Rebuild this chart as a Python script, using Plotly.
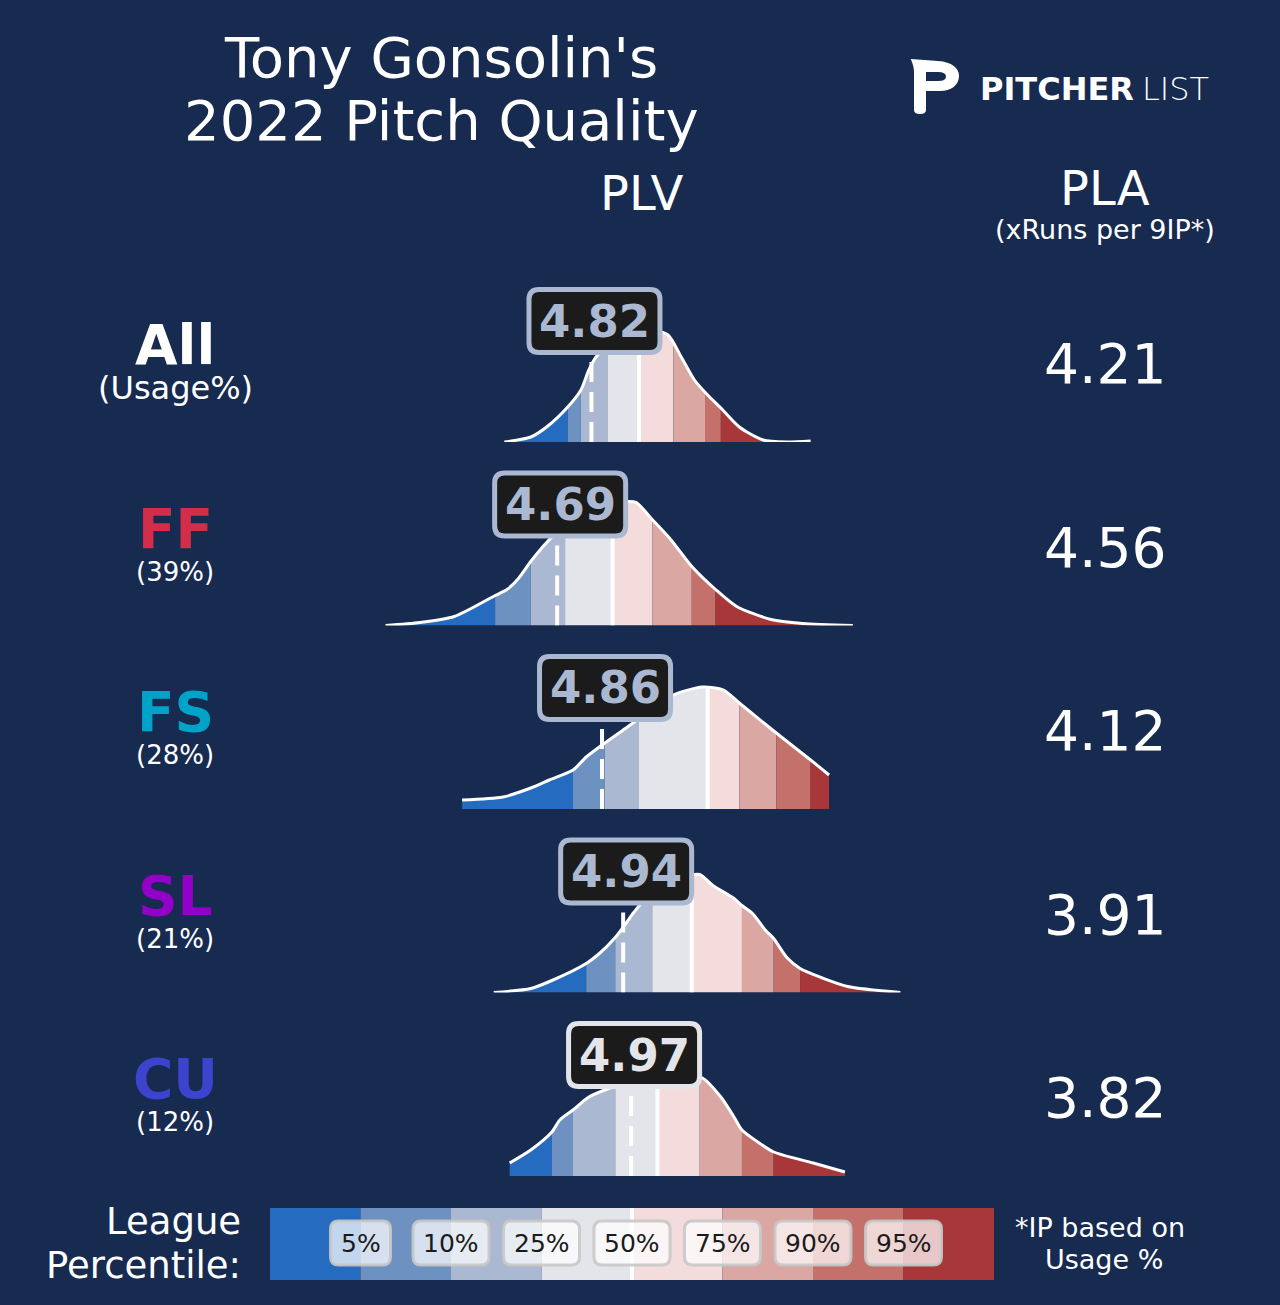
import plotly.graph_objects as go

W, H = 1280, 1305
BG = "#172a4f"
FONT = "DejaVu Sans"

# ---- data ----
pitches = ["All", "FF", "FS", "SL", "CU"]
usage = ["(Usage%)", "(39%)", "(28%)", "(21%)", "(12%)"]
pitch_colors = ["#ffffff", "#d22d49", "#00a3c8", "#9300c8", "#3c44cd"]
plv = [4.82, 4.69, 4.86, 4.94, 4.97]
pla = [4.21, 4.56, 4.12, 3.91, 3.82]
label_colors = ["#aab9d1", "#aab9d1", "#aab9d1", "#aab9d1", "#e4e5eb"]

percentiles = ["5%", "10%", "25%", "50%", "75%", "90%", "95%"]
band_colors = ["#256bc0", "#6d91c0", "#aab9d1", "#e4e5eb",
               "#f3dcdb", "#daa7a3", "#c4706b", "#a8373a"]

# league PLV at each percentile, per pitch type
cuts_all = [4.73, 4.78, 4.88, 5.00, 5.13, 5.25, 5.31]
cuts_ff = [4.455, 4.59, 4.72, 4.90, 5.05, 5.20, 5.29]
cuts_fs = [4.75, 4.87, 5.00, 5.26, 5.38, 5.52, 5.65]
cuts_sl = [4.80, 4.91, 5.05, 5.20, 5.39, 5.51, 5.61]
cuts_cu = [4.67, 4.75, 4.91, 5.07, 5.23, 5.39, 5.51]

# league PLV density curves (PLV, density)
x_all = [4.49, 4.59, 4.65, 4.73, 4.78, 4.81, 4.84, 4.89, 4.95, 5.00, 5.06,
         5.11, 5.16, 5.21, 5.26, 5.31, 5.38, 5.47, 5.56, 5.65]
d_all = [0.00, 0.05, 0.15, 0.35, 0.52, 0.72, 0.86, 0.96, 1.04, 1.09, 1.11,
         1.07, 0.85, 0.62, 0.47, 0.34, 0.15, 0.02, 0.00, 0.01]
x_ff = [4.04, 4.17, 4.30, 4.455, 4.50, 4.54, 4.59, 4.64, 4.70, 4.78, 4.85,
        4.93, 4.96, 4.99, 5.05, 5.12, 5.20, 5.29, 5.37, 5.50, 5.62, 5.81]
d_ff = [0.00, 0.03, 0.09, 0.30, 0.36, 0.46, 0.64, 0.80, 0.96, 1.10, 1.18,
        1.23, 1.24, 1.23, 1.06, 0.86, 0.59, 0.36, 0.19, 0.06, 0.02, 0.00]
x_fs = [4.33, 4.485, 4.59, 4.66, 4.75, 4.80, 4.86, 4.94, 5.04, 5.13, 5.24, 5.32,
        5.38, 5.52, 5.65, 5.72]
d_fs = [0.09, 0.12, 0.21, 0.29, 0.39, 0.52, 0.64, 0.79, 0.98, 1.14, 1.22, 1.19,
        1.06, 0.76, 0.49, 0.34]
x_sl = [4.45, 4.59, 4.67, 4.80, 4.85, 4.91, 4.95, 4.98, 5.04, 5.12, 5.19,
        5.23, 5.28, 5.36, 5.39, 5.43, 5.48, 5.51, 5.56, 5.61, 5.69, 5.79, 5.99]
d_sl = [0.00, 0.04, 0.12, 0.29, 0.39, 0.55, 0.69, 0.80, 0.98, 1.10, 1.17,
        1.18, 1.07, 0.94, 0.87, 0.79, 0.62, 0.54, 0.35, 0.24, 0.15, 0.06, 0.00]
x_cu = [4.51, 4.59, 4.67, 4.70, 4.75, 4.81, 4.89, 4.97, 5.04, 5.12, 5.19,
        5.24, 5.31, 5.36, 5.39, 5.45, 5.51, 5.66, 5.78]
d_cu = [0.13, 0.26, 0.44, 0.56, 0.66, 0.79, 0.88, 0.95, 0.99, 1.01, 1.00,
        0.98, 0.79, 0.59, 0.46, 0.34, 0.24, 0.13, 0.04]

curves_x = [x_all, x_ff, x_fs, x_sl, x_cu]
curves_d = [d_all, d_ff, d_fs, d_sl, d_cu]
cuts = [cuts_all, cuts_ff, cuts_fs, cuts_sl, cuts_cu]

# ---- layout helpers ----
PX_PER_PLV = 264
PLV0_PX = -681          # pixel where PLV 0 would sit
PX_PER_UNIT = 100       # vertical pixels per density unit
ROW0, ROW_STEP = 442, 183.5
RECT_TOP, MASK_TOP, Y_TOP = 1.45, 1.55, 1.6
BOX_Y0, BOX_Y1 = 0.895, 1.525
PAD = 0.05              # mask overhang left/right of each curve


def px(x):
    return x / W


def py(y):
    return 1 - y / H


def rounded(x0, y0, x1, y1, rx, ry):
    return (f"M{x0+rx},{y0} L{x1-rx},{y0} Q{x1},{y0} {x1},{y0+ry} "
            f"L{x1},{y1-ry} Q{x1},{y1} {x1-rx},{y1} L{x0+rx},{y1} "
            f"Q{x0},{y1} {x0},{y1-ry} L{x0},{y0+ry} Q{x0},{y0} {x0+rx},{y0} Z")


def text(x, y, s, size, color="white", xanchor="center", weight=None):
    font = dict(family=FONT, size=size, color=color)
    if weight:
        font["weight"] = weight
    annotations.append(dict(x=px(x), y=py(y), xref="paper", yref="paper",
                            text=s, showarrow=False, xanchor=xanchor, yanchor="middle",
                            font=font))


fig = go.Figure()
shapes, annotations = [], []
layout_axes = {}

for i, name in enumerate(pitches):
    k = i + 1
    yname = "y" if k == 1 else f"y{k}"
    base = ROW0 + ROW_STEP * i
    layout_axes["yaxis" if k == 1 else f"yaxis{k}"] = dict(
        domain=[py(base), py(base - Y_TOP * PX_PER_UNIT)],
        range=[0, Y_TOP], visible=False, fixedrange=True)

    xs, ds = curves_x[i], curves_d[i]
    edges = [xs[0]] + cuts[i] + [xs[-1]]
    # percentile bands (masked above the curve)
    for b in range(8):
        shapes.append(dict(type="rect", xref="x", yref=yname, layer="below",
                           x0=edges[b], x1=edges[b + 1], y0=0, y1=RECT_TOP,
                           fillcolor=band_colors[b], line=dict(width=0)))
    # league median
    shapes.append(dict(type="line", xref="x", yref=yname, layer="below",
                       x0=cuts[i][3], x1=cuts[i][3], y0=0, y1=RECT_TOP,
                       line=dict(color="white", width=4)))

    # background-coloured mask above the curve
    fig.add_trace(go.Scatter(x=[xs[0] - PAD, xs[0] - PAD, xs[-1] + PAD, xs[-1] + PAD],
                             y=[0, MASK_TOP, MASK_TOP, 0], xaxis="x", yaxis=yname,
                             mode="lines", line=dict(width=0), hoverinfo="skip"))
    fig.add_trace(go.Scatter(x=xs, y=ds, xaxis="x", yaxis=yname, mode="lines",
                             fill="tonexty", fillcolor=BG,
                             line=dict(color="white", width=3, shape="spline",
                                       smoothing=0.7),
                             hoverinfo="skip"))

    # player's value
    shapes.append(dict(type="line", xref="x", yref=yname, layer="above",
                       x0=plv[i], x1=plv[i], y0=0, y1=BOX_Y0,
                       line=dict(color="white", width=4, dash="20px,10px")))
    cx = plv[i] + 3 / PX_PER_PLV
    hw = 65.5 / PX_PER_PLV
    shapes.append(dict(type="path", xref="x", yref=yname, layer="above",
                       path=rounded(cx - hw, BOX_Y0, cx + hw, BOX_Y1,
                                    10 / PX_PER_PLV, 10 / PX_PER_UNIT),
                       fillcolor="#1b1b1b",
                       line=dict(color=label_colors[i], width=5)))
    annotations.append(dict(x=cx, y=(BOX_Y0 + BOX_Y1) / 2, xref="x", yref=yname,
                            text=f"<b>{plv[i]:.2f}</b>", showarrow=False,
                            xanchor="center", yanchor="middle",
                            font=dict(family=FONT, size=45, color=label_colors[i])))

    # row labels
    text(175, base - 97, f"<b>{name}</b>", 55, pitch_colors[i])
    text(175, base - 54, usage[i], 32 if i == 0 else 26)
    text(1105, base - 78, f"{pla[i]:.2f}", 55)

# ---- titles ----
text(441, 58, "Tony Gonsolin's", 56)
text(441, 120, "2022 Pitch Quality", 56)
text(641, 193, "PLV", 48)
text(1105, 188, "PLA", 48)
text(1105, 230, "(xRuns per 9IP*)", 27)
text(243, 1221, "League", 37, xanchor="right")
text(243, 1265, "Percentile:", 37, xanchor="right")
text(1100, 1227, "*IP based on", 27)
text(1104, 1259, "Usage %", 27)

# ---- logo ----
logo = ("M{},{} L{},{} C{},{} {},{} {},{} C{},{} {},{} {},{} L{},{} L{},{} "
        "Q{},{} {},{} Q{},{} {},{} L{},{} Q{},{} {},{} Z")
pts = [(910.7, 59), (938, 61), (952, 62), (959, 68), (959, 76), (959, 85), (951, 91),
       (940, 91), (926, 91), (926, 110), (926, 114), (920, 114), (914, 114), (914, 110),
       (914, 72), (914, 66), (910.7, 59)]
flat = []
for a, b in pts:
    flat += [px(a), py(b)]
shapes.append(dict(type="path", xref="paper", yref="paper", layer="above",
                   path=logo.format(*flat), fillcolor="white", line=dict(width=0)))
hole = [(926, 72), (938, 72), (946, 72), (946, 76.5), (946, 81), (938, 81), (926, 81)]
fh = []
for a, b in hole:
    fh += [px(a), py(b)]
shapes.append(dict(type="path", xref="paper", yref="paper", layer="above",
                   path="M{},{} L{},{} Q{},{} {},{} Q{},{} {},{} L{},{} Z".format(*fh),
                   fillcolor=BG, line=dict(width=0)))
text(978, 89, "<b>PITCHER</b>", 32, xanchor="left")
text(1211, 89, "LIST", 32, xanchor="right", weight=200)

# ---- percentile legend bar ----
BAR_X0, BAR_X1, BAR_Y0, BAR_Y1 = 270, 994, 1208, 1280
bw = (BAR_X1 - BAR_X0) / len(band_colors)
for b, c in enumerate(band_colors):
    shapes.append(dict(type="rect", xref="paper", yref="paper", layer="above",
                       x0=px(BAR_X0 + b * bw), x1=px(BAR_X0 + (b + 1) * bw),
                       y0=py(BAR_Y1), y1=py(BAR_Y0), fillcolor=c, line=dict(width=0)))
mid = BAR_X0 + 4 * bw
shapes.append(dict(type="line", xref="paper", yref="paper", layer="above",
                   x0=px(mid), x1=px(mid), y0=py(BAR_Y1), y1=py(BAR_Y0),
                   line=dict(color="white", width=4)))
for j, lab in enumerate(percentiles):
    cxp = BAR_X0 + (j + 1) * bw
    half = 30 if len(lab) == 2 else 38
    shapes.append(dict(type="path", xref="paper", yref="paper", layer="above",
                       path=rounded(px(cxp - half), py(1265), px(cxp + half), py(1221),
                                    px(8), 8 / H),
                       fillcolor="rgba(255,255,255,0.72)",
                       line=dict(color="rgba(200,200,200,0.9)", width=3)))
    text(cxp, 1243, lab, 25, "#1b1b1b")

fig.update_layout(
    width=W, height=H,
    margin=dict(l=0, r=0, t=0, b=0),
    paper_bgcolor=BG, plot_bgcolor="rgba(0,0,0,0)",
    showlegend=False,
    xaxis=dict(domain=[0, 1], range=[-PLV0_PX / PX_PER_PLV, (W - PLV0_PX) / PX_PER_PLV],
               visible=False, fixedrange=True),
    shapes=shapes, annotations=annotations,
    **layout_axes,
)

fig.write_html("out.html", config={"displayModeBar": False},
               post_script="document.body.style.margin='0px';")
